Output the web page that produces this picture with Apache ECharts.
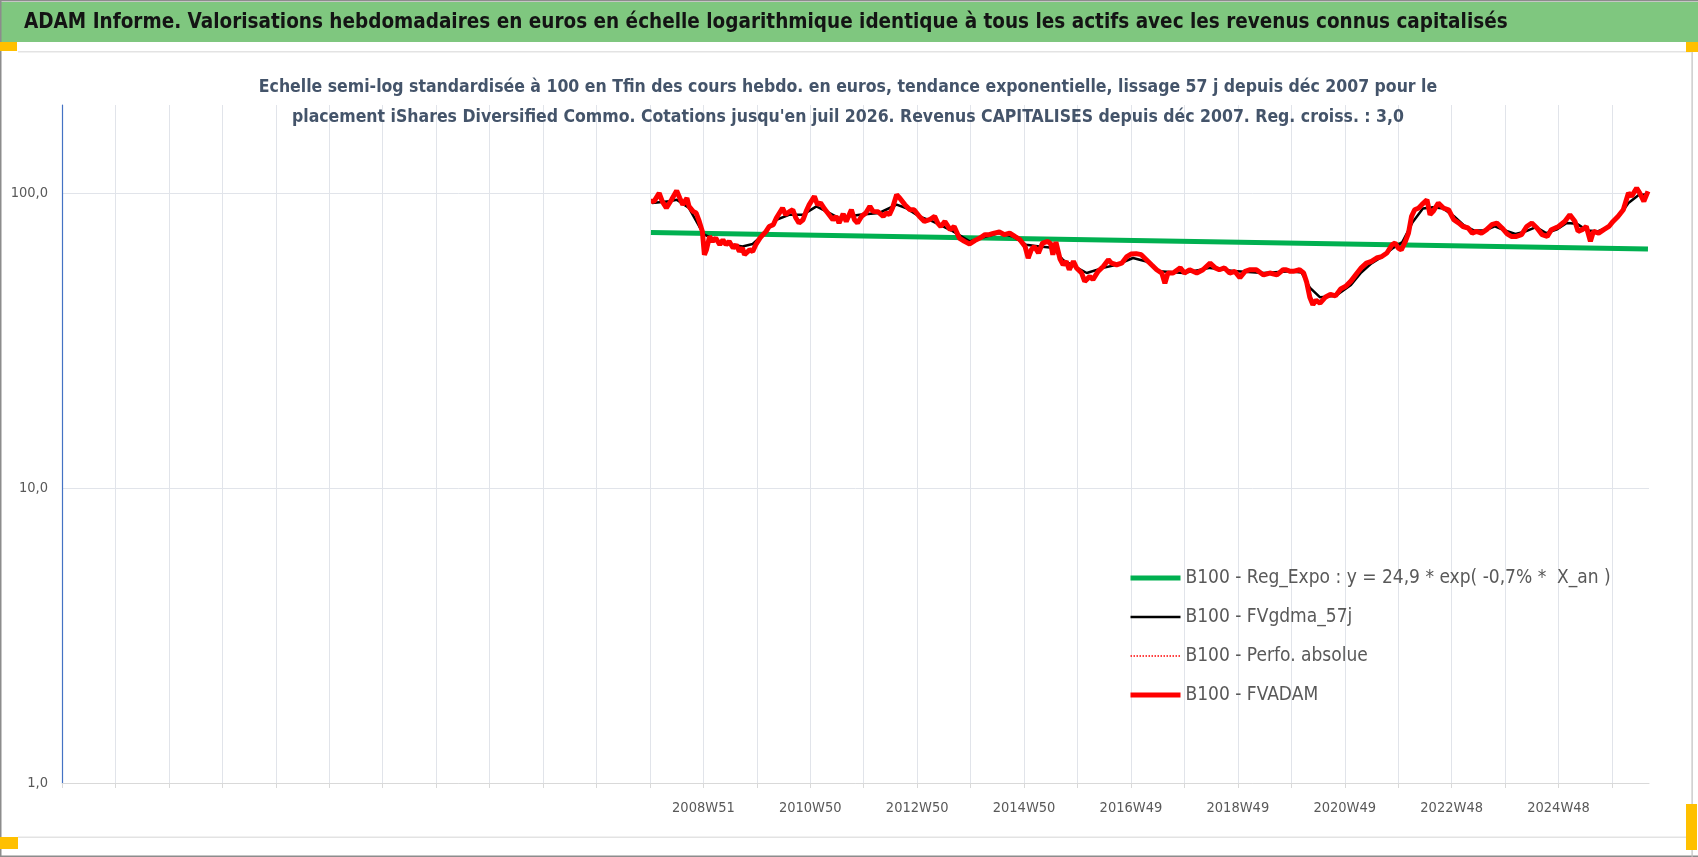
<!DOCTYPE html>
<html>
<head>
<meta charset="utf-8">
<script src="https://cdn.jsdelivr.net/npm/echarts@6/dist/echarts.min.js"></script>
<style>
html,body{margin:0;padding:0;background:#fff;}
#chart{width:1698px;height:857px;}
</style>
</head>
<body>
<div id="chart"></div>
<script>
// ---- Data (x = week offset relative to 2008W51, y = base-100 value) ----
const tickLabels = ["2008W51","2010W50","2012W50","2014W50","2016W49","2018W49","2020W49","2022W48","2024W48"];

const fvadamWeeks = [-51,-48,-43,-40,-36,-31,-26,-23,-20,-16,-14,-10,-7,-4,-1,1,3,6,9,12,16,19,22,25,29,32,35,38,40,45,48,51,55,58,61,64,68,71,74,77,80,84,87,90,93,97,100,103,108,111,114,118,121,126,129,132,136,139,144,147,150,154,158,162,165,170,175,178,181,184,188,191,196,201,205,210,215,220,225,228,231,235,240,244,249,254,259,264,269,274,278,283,288,293,298,303,308,313,316,319,322,326,330,335,338,340,343,347,350,353,356,360,363,368,371,376,379,384,389,394,397,402,407,412,416,421,426,431,436,441,446,449,452,457,464,468,473,480,486,493,498,502,507,512,517,522,527,532,538,545,551,558,564,567,571,574,580,584,587,590,593,596,600,605,610,615,620,625,630,636,640,645,650,655,660,665,670,673,676,679,683,686,689,692,696,699,704,707,710,715,720,725,730,735,739,744,748,752,757,762,767,772,777,782,786,791,796,801,806,811,816,821,825,832,838,843,848,851,855,859,863,866,871,876,881,885,890,895,900,903,908,911,915,919];
const fvadamValues = [94.2,94.2,100.5,94.2,89.4,95.4,102.4,96.7,91.8,96.7,90.6,87.1,86.0,80.5,74.5,62.1,64.5,71.6,68.9,70.7,67.1,69.8,67.1,68.9,65.4,67.1,63.7,65.4,62.1,64.5,63.7,67.1,70.7,72.6,74.5,77.4,78.5,82.7,86.0,89.4,84.9,87.1,88.2,82.7,79.5,81.6,87.1,91.8,97.9,91.8,93.0,88.6,86.0,81.6,83.8,79.5,85.4,80.5,88.2,81.6,79.5,83.8,86.0,90.6,87.1,86.8,83.8,86.0,84.9,89.4,99.2,96.7,91.8,88.2,88.2,83.8,80.5,81.6,83.8,79.5,77.4,80.5,75.5,77.4,70.7,68.9,67.5,69.3,70.7,72.6,72.6,73.5,74.1,72.6,73.5,71.6,69.8,66.2,60.5,64.5,66.2,62.9,68.0,68.9,67.5,62.1,68.5,60.0,57.4,58.9,55.2,58.9,56.0,53.8,50.4,52.4,51.1,54.5,56.6,59.7,58.1,57.4,58.1,61.2,62.4,62.6,62.1,59.7,57.4,55.2,53.8,49.7,53.8,53.8,56.0,53.8,55.2,53.8,55.2,58.1,56.0,55.2,56.0,53.8,54.5,51.9,54.5,55.2,55.2,53.0,53.8,53.0,55.2,55.2,54.5,54.5,55.2,53.8,50.0,44.5,42.0,43.5,42.5,44.5,45.5,45.0,47.5,48.5,50.5,53.8,56.0,58.1,58.9,60.5,61.2,62.9,67.1,68.0,65.4,64.5,68.9,73.5,83.8,88.2,89.4,91.8,95.4,84.9,87.1,93.0,89.4,88.2,81.6,79.5,77.4,76.5,73.5,74.5,73.5,75.5,78.5,79.5,76.5,73.0,71.6,71.6,72.6,77.4,79.5,76.5,72.6,71.6,75.5,77.4,80.5,84.9,80.5,74.5,75.5,77.4,68.9,74.5,73.5,75.5,77.4,80.5,83.8,88.2,100.5,97.9,104.5,100.5,94.2,101.8];

const gdmaWeeks = [-50,-33,-26,-14,-4,1,19,38,48,58,71,84,97,110,120,132,152,171,188,197,210,223,243,259,275,288,301,314,327,340,350,373,389,402,418,431,444,467,493,519,545,571,582,590,600,615,630,640,650,660,670,680,690,700,710,720,730,740,750,760,770,780,790,800,810,820,830,840,850,860,870,880,890,900,910,919];
const gdmaValues = [93.0,94.2,95.4,89.4,77.4,72.6,68.0,66.2,67.5,72.6,81.6,84.9,84.9,90.6,87.0,82.7,84.9,86.0,91.8,89.4,83.8,80.5,74.5,68.9,71.6,73.5,71.6,67.1,66.2,65.5,59.5,53.8,56.0,57.4,60.5,58.9,54.5,53.8,56.0,54.5,53.8,54.5,54.0,48.0,44.5,45.0,49.0,54.0,58.0,61.0,65.0,68.5,80.0,89.0,90.0,89.0,84.0,78.0,75.0,75.0,77.5,75.0,73.0,74.5,77.0,73.5,75.5,79.5,79.0,75.0,74.5,77.0,83.0,93.0,99.0,99.5];

const regWeeks = [-51, 919];
const regValues = [73.8, 64.9];

const seriesNames = [
  "B100 - Reg_Expo : y = 24,9 * exp( -0,7% *  X_an )",
  "B100 - FVgdma_57j",
  "B100 - Perfo. absolue",
  "B100 - FVADAM"
];

const headerText = "ADAM Informe. Valorisations hebdomadaires en euros en échelle logarithmique identique à tous les actifs avec les revenus connus capitalisés";
const subtitleText = "Echelle semi-log standardisée à 100 en Tfin des cours hebdo. en euros, tendance exponentielle, lissage 57 j depuis déc 2007 pour le\nplacement iShares Diversified Commo. Cotations jusqu'en juil 2026. Revenus CAPITALISES depuis déc 2007. Reg. croiss. : 3,0";

// ---- Build ----
const FONT = "'Liberation Sans Narrow','DejaVu Sans Condensed',sans-serif";
const pairs = (xs, ys) => xs.map((x, i) => [x, ys[i]]);

const chart = echarts.init(document.getElementById('chart'), null, {renderer: 'canvas'});
const GRID_COLOR = '#e1e4ea';

const legendStyles = [
  {color: '#00b050', width: 5, type: 'solid'},
  {color: '#000000', width: 2.5, type: 'solid'},
  {color: '#ff0000', width: 1.5, type: 'dotted'},
  {color: '#ff0000', width: 5, type: 'solid'}
];

chart.setOption({
  animation: false,
  backgroundColor: '#ffffff',
  graphic: [
    {type: 'rect', z: -10, shape: {x: 0, y: 2, width: 1698, height: 40}, style: {fill: '#7fc77f'}},
    {type: 'rect', z: -9, shape: {x: 0, y: 0, width: 1698, height: 1.5}, style: {fill: '#8c8c8c'}},
    {type: 'rect', z: -9, shape: {x: 0, y: 0, width: 1.5, height: 857}, style: {fill: '#8c8c8c'}},
    {type: 'rect', z: -9, shape: {x: 0, y: 855.5, width: 1698, height: 1.5}, style: {fill: '#8c8c8c'}},
    {type: 'rect', z: -9, shape: {x: 1691.5, y: 42, width: 1.2, height: 815}, style: {fill: '#bfbfbf'}},
    {type: 'rect', z: -9, shape: {x: 18, y: 51, width: 1674, height: 1.5}, style: {fill: '#e3e3e3'}},
    {type: 'rect', z: -9, shape: {x: 18, y: 836.5, width: 1674, height: 1.5}, style: {fill: '#e3e3e3'}},
    {type: 'rect', z: 5, shape: {x: 0, y: 42, width: 17, height: 9}, style: {fill: '#ffc000'}},
    {type: 'rect', z: 5, shape: {x: 1686, y: 42, width: 12, height: 10}, style: {fill: '#ffc000'}},
    {type: 'rect', z: 5, shape: {x: 0, y: 837, width: 18, height: 12}, style: {fill: '#ffc000'}},
    {type: 'rect', z: 5, shape: {x: 1686, y: 804, width: 11, height: 46}, style: {fill: '#ffc000'}},
    {type: 'text', z: 6, x: 24, y: 23, style: {text: headerText, fill: '#141414', font: "bold 20.5px " + FONT, textVerticalAlign: 'middle'}},
    {type: 'text', z: 6, x: 848, y: 102, style: {text: subtitleText, fill: '#44546a', font: "bold 17.5px " + FONT, textAlign: 'center', textVerticalAlign: 'middle', lineHeight: 30}}
  ],
  grid: {left: 62, right: 49, top: 105, bottom: 74, containLabel: false},
  legend: {
    orient: 'vertical',
    left: 1123,
    top: 562,
    itemWidth: 50,
    itemHeight: 14,
    itemGap: 17,
    textStyle: {fontSize: 19, color: '#595959', fontFamily: FONT, lineHeight: 22},
    data: seriesNames.map((n, i) => ({
      name: n,
      itemStyle: {opacity: 0},
      lineStyle: legendStyles[i]
    }))
  },
  xAxis: {
    type: 'value',
    min: -624,
    max: 920,
    interval: 52,
    axisLine: {show: true, onZero: false, lineStyle: {color: '#d9d9d9', width: 1}},
    axisTick: {show: true, length: 5, lineStyle: {color: '#d9d9d9'}},
    splitLine: {show: true, showMinLine: false, showMaxLine: false, lineStyle: {color: GRID_COLOR, width: 1}},
    axisLabel: {
      margin: 18,
      fontSize: 14.5,
      color: '#595959',
      fontFamily: FONT,
      showMaxLabel: false,
      formatter: function (v) {
        if (v >= 0 && v % 104 === 0) { const t = tickLabels[v / 104]; return t || ''; }
        return '';
      }
    }
  },
  yAxis: {
    type: 'log',
    logBase: 10,
    min: 1,
    max: 200,
    axisLine: {show: true, onZero: false, lineStyle: {color: '#4472c4', width: 1.2}},
    axisTick: {show: false},
    splitLine: {show: true, showMaxLine: false, lineStyle: {color: GRID_COLOR, width: 1}},
    axisLabel: {
      margin: 14,
      fontSize: 14.5,
      color: '#595959',
      fontFamily: FONT,
      showMaxLabel: false,
      formatter: function (v) {
        const l = Math.log10(v);
        if (Math.abs(l - Math.round(l)) < 1e-6) return v.toFixed(1).replace('.', ',');
        return '';
      }
    }
  },
  series: [
    {
      name: seriesNames[0], type: 'line', symbol: 'none', z: 2,
      data: pairs(regWeeks, regValues),
      lineStyle: {color: '#00b050', width: 5}, itemStyle: {color: '#00b050'}
    },
    {
      name: seriesNames[2], type: 'line', symbol: 'none', z: 3,
      data: pairs(fvadamWeeks, fvadamValues),
      lineStyle: {color: '#ff0000', width: 1.5, type: 'dotted'}, itemStyle: {color: '#ff0000'}
    },
    {
      name: seriesNames[1], type: 'line', symbol: 'none', z: 4,
      data: pairs(gdmaWeeks, gdmaValues),
      lineStyle: {color: '#000000', width: 2.5}, itemStyle: {color: '#000000'}
    },
    {
      name: seriesNames[3], type: 'line', symbol: 'none', z: 5,
      data: pairs(fvadamWeeks, fvadamValues),
      lineStyle: {color: '#ff0000', width: 5}, itemStyle: {color: '#ff0000'}
    }
  ]
});
</script>
</body>
</html>
